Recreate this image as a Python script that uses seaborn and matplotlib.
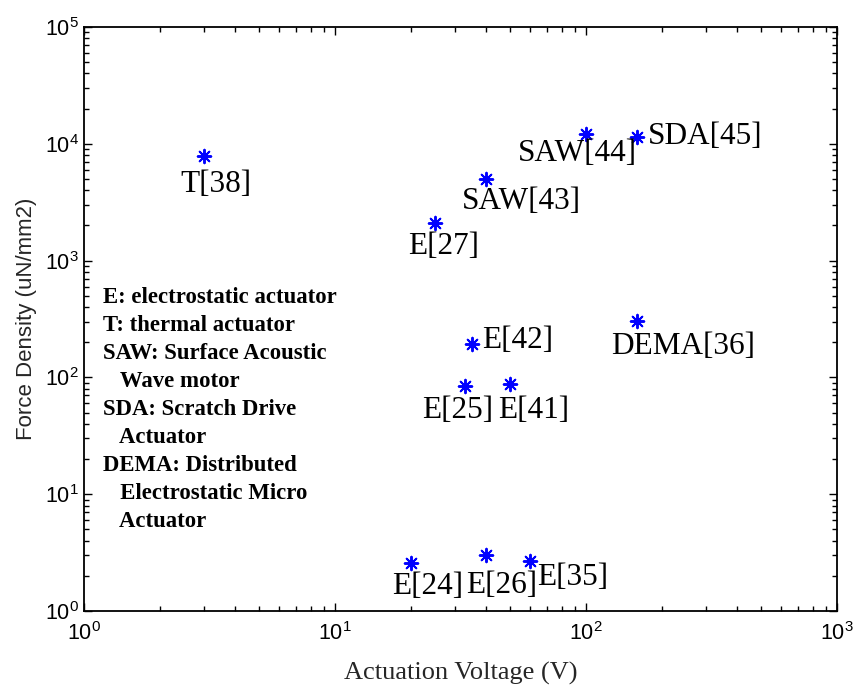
import matplotlib
matplotlib.use("Agg")
import matplotlib.pyplot as plt
import seaborn as sns
import numpy as np
import pandas as pd
from matplotlib.ticker import LogLocator, NullFormatter

# ---- data ----
labels = ["T[38]", "E[27]", "SAW[43]", "SAW[44]", "SDA[45]", "E[42]",
          "E[25]", "E[41]", "DEMA[36]", "E[24]", "E[26]", "E[35]"]
voltage = [3, 25, 40, 100, 160, 35, 33, 50, 160, 20, 40, 60]
force_density = [7800, 2100, 5000, 12200, 11500, 195, 85, 88, 305, 2.6, 3.0, 2.7]

legend_text = ("E: electrostatic actuator\n"
               "T: thermal actuator\n"
               "SAW: Surface Acoustic\n"
               "   Wave motor\n"
               "SDA: Scratch Drive\n"
               "   Actuator\n"
               "DEMA: Distributed\n"
               "   Electrostatic Micro\n"
               "   Actuator")

df = pd.DataFrame({"V": voltage, "F": force_density, "label": labels})

sns.set_style("ticks")
plt.rcParams["font.family"] = ["Liberation Sans", "DejaVu Sans"]
plt.rcParams["mathtext.fontset"] = "custom"
plt.rcParams["mathtext.rm"] = "Liberation Sans"

fig = plt.figure(figsize=(8.59, 6.87), dpi=100)
ax = fig.add_axes([84 / 859, 1 - 611 / 687, (837 - 84) / 859, (611 - 27) / 687])

sns.scatterplot(data=df, x="V", y="F", ax=ax, marker=(8, 2, 0),
                color="#0000ff", s=95, linewidth=1.4, legend=False, zorder=3)

ax.set_xscale("log")
ax.set_yscale("log")
ax.set_xlim(1, 1000)
ax.set_ylim(1, 1e5)

# label offsets in pixels (dx right, dy down), alignment
offsets = {
    "T[38]": (12, 28, "center"),
    "E[27]": (9, 24, "center"),
    "SAW[43]": (35, 23, "center"),
    "SAW[44]": (-9, 20, "center"),
    "SDA[45]": (11, 0, "left"),
    "E[42]": (11, -3, "left"),
    "E[25]": (-7, 25, "center"),
    "E[41]": (23, 27, "center"),
    "DEMA[36]": (46, 26, "center"),
    "E[24]": (17, 24, "center"),
    "E[26]": (16, 30, "center"),
    "E[35]": (42, 17, "center"),
}
for lab, v, f in zip(labels, voltage, force_density):
    dx, dy, ha = offsets[lab]
    ax.annotate(lab, (v, f), xytext=(dx, -dy), textcoords="offset pixels",
                ha=ha, va="center", fontsize=22.5,
                family=["Liberation Serif", "DejaVu Serif"], color="black")

ax.text(0.025, 0.554, legend_text, transform=ax.transAxes, ha="left", va="top",
        fontsize=16.4, fontweight="bold", linespacing=1.43,
        family=["Liberation Serif", "DejaVu Serif"], color="black")

ax.set_xlabel("Actuation Voltage (V)", fontsize=19,
              family=["Liberation Serif", "DejaVu Serif"], labelpad=12)
ax.set_ylabel("Force Density (uN/mm2)", fontsize=16, labelpad=6)

for sp in ax.spines.values():
    sp.set_visible(True)
    sp.set_linewidth(1.3)
    sp.set_color("black")

ax.xaxis.set_major_locator(LogLocator(base=10, numticks=10))
ax.yaxis.set_major_locator(LogLocator(base=10, numticks=10))
ax.xaxis.set_minor_locator(LogLocator(base=10, subs=np.arange(2, 10), numticks=20))
ax.yaxis.set_minor_locator(LogLocator(base=10, subs=np.arange(2, 10), numticks=20))
ax.xaxis.set_minor_formatter(NullFormatter())
ax.yaxis.set_minor_formatter(NullFormatter())
ax.tick_params(which="both", direction="in", top=True, right=True,
               labelsize=15.5, colors="black", width=1.0)
ax.tick_params(which="major", length=6)
ax.tick_params(which="minor", length=3.5)
ax.tick_params(axis="x", pad=8)
ax.grid(False)
ax.set_facecolor("white")
fig.patch.set_facecolor("white")

fig.savefig("out.png", dpi=100, facecolor="white")
